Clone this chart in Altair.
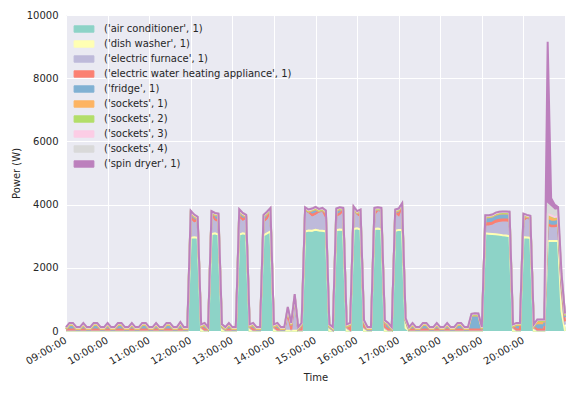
import altair as alt
import pandas as pd

# ---------------- data (5-minute samples, 09:00 .. 21:00) ----------------
names = [
    "('air conditioner', 1)", "('dish washer', 1)", "('electric furnace', 1)",
    "('electric water heating appliance', 1)", "('fridge', 1)", "('sockets', 1)",
    "('sockets', 2)", "('sockets', 3)", "('sockets', 4)", "('spin dryer', 1)",
]
colors = ["#8dd3c7", "#ffffb3", "#bebada", "#fb8072", "#80b1d3",
          "#fdb462", "#b3de69", "#fccde5", "#d9d9d9", "#bc80bd"]

hour_ticks = [9, 10, 11, 12, 13, 14, 15, 16, 17, 18, 19, 20]
y_ticks = [0, 2000, 4000, 6000, 8000, 10000]

air_conditioner = [
    0, 0, 0, 0, 0, 0, 0, 0, 0, 0, 0, 0,
    0, 0, 0, 0, 0, 0, 0, 0, 0, 0, 0, 0,
    0, 0, 0, 0, 0, 0, 0, 0, 0, 0, 0, 0,
    2900, 2920, 2900, 0, 0, 0, 3020, 3040, 3000, 0, 0, 0,
    0, 0, 3000, 3040, 3020, 0, 0, 0, 0, 2980, 3040, 3100,
    0, 0, 0, 0, 0, 0, 0, 0, 0, 3100, 3130, 3120,
    3150, 3130, 3120, 3100, 0, 0, 3140, 3160, 3150, 0, 0, 3180,
    3200, 3160, 0, 0, 0, 3180, 3190, 3170, 0, 0, 0, 3120,
    3150, 3150, 100, 0, 0, 0, 0, 0, 0, 0, 0, 0,
    0, 0, 0, 0, 0, 0, 0, 0, 0, 0, 0, 0,
    0, 3040, 3030, 3020, 3010, 3000, 2980, 2970, 2950, 0, 0, 0,
    2920, 2910, 2900, 0, 0, 0, 0, 2800, 2800, 2800, 2800, 600,
    0,
]
dish_washer = [
    5, 5, 5, 5, 5, 5, 5, 5, 5, 5, 5, 5,
    5, 5, 5, 5, 5, 5, 5, 5, 5, 5, 5, 5,
    5, 5, 5, 5, 5, 5, 5, 5, 5, 5, 5, 5,
    50, 50, 50, 5, 5, 5, 50, 50, 50, 5, 5, 5,
    5, 5, 50, 50, 50, 5, 5, 5, 5, 50, 50, 50,
    5, 5, 5, 5, 5, 5, 5, 5, 5, 50, 50, 50,
    50, 50, 50, 50, 5, 5, 50, 50, 50, 5, 5, 50,
    50, 50, 5, 5, 5, 50, 50, 50, 5, 5, 5, 50,
    50, 50, 5, 5, 5, 5, 5, 5, 5, 5, 5, 5,
    5, 5, 5, 5, 5, 5, 5, 5, 5, 5, 5, 5,
    5, 50, 50, 50, 50, 50, 50, 50, 50, 5, 5, 5,
    50, 50, 50, 5, 5, 5, 5, 50, 50, 50, 50, 30,
    5,
]
electric_furnace = [
    15, 15, 15, 15, 15, 15, 15, 15, 15, 15, 15, 15,
    15, 15, 15, 15, 15, 15, 15, 15, 15, 15, 15, 15,
    15, 15, 15, 15, 15, 15, 15, 15, 15, 15, 15, 15,
    570, 430, 510, 100, 15, 15, 570, 360, 380, 100, 15, 15,
    15, 15, 520, 360, 450, 100, 15, 15, 15, 360, 400, 590,
    100, 15, 15, 15, 520, 15, 1060, 15, 15, 610, 510, 420,
    440, 530, 570, 380, 100, 15, 400, 420, 540, 100, 15, 560,
    390, 350, 100, 15, 15, 380, 520, 520, 100, 15, 15, 520,
    390, 690, 200, 15, 15, 15, 15, 15, 15, 15, 15, 15,
    15, 15, 15, 15, 15, 15, 15, 15, 15, 15, 15, 15,
    15, 220, 230, 260, 330, 370, 400, 410, 420, 100, 15, 15,
    460, 560, 540, 100, 15, 15, 15, 450, 400, 400, 420, 600,
    200,
]
water_heating = [
    30, 30, 30, 30, 30, 30, 30, 30, 30, 30, 30, 30,
    30, 30, 30, 30, 30, 30, 30, 30, 30, 30, 30, 30,
    30, 30, 30, 30, 30, 30, 30, 30, 30, 30, 30, 30,
    80, 80, 80, 30, 30, 30, 80, 80, 80, 30, 30, 30,
    30, 30, 80, 80, 80, 30, 30, 30, 30, 80, 80, 80,
    30, 30, 30, 30, 30, 30, 30, 30, 30, 80, 80, 80,
    80, 80, 80, 80, 30, 30, 80, 80, 80, 30, 30, 80,
    80, 80, 30, 30, 30, 80, 80, 80, 30, 30, 30, 80,
    80, 80, 30, 30, 30, 30, 30, 30, 30, 30, 30, 30,
    30, 30, 30, 30, 30, 30, 30, 30, 30, 30, 30, 30,
    30, 100, 100, 100, 100, 100, 100, 100, 100, 30, 30, 30,
    80, 80, 80, 30, 30, 30, 30, 80, 80, 80, 80, 200,
    100,
]
fridge = [
    0, 130, 130, 0, 0, 130, 0, 0, 130, 130, 0, 0,
    130, 0, 0, 130, 130, 0, 0, 130, 0, 0, 130, 130,
    0, 0, 130, 0, 0, 130, 130, 0, 0, 160, 0, 0,
    130, 130, 0, 0, 130, 0, 0, 130, 130, 0, 0, 130,
    0, 0, 130, 130, 0, 0, 130, 0, 0, 130, 130, 0,
    0, 130, 0, 0, 130, 130, 0, 0, 130, 0, 0, 130,
    130, 0, 0, 130, 0, 0, 130, 130, 0, 0, 130, 0,
    0, 130, 130, 0, 0, 130, 0, 0, 130, 130, 0, 0,
    130, 0, 0, 0, 130, 0, 0, 130, 130, 0, 0, 130,
    0, 0, 130, 0, 0, 130, 130, 0, 0, 420, 440, 430,
    0, 180, 180, 180, 180, 180, 180, 180, 180, 0, 130, 130,
    130, 0, 0, 0, 130, 130, 130, 130, 130, 130, 130, 130,
    130,
]
sockets_1 = [
    10, 10, 10, 10, 10, 10, 10, 10, 10, 10, 10, 10,
    10, 10, 10, 10, 10, 10, 10, 10, 10, 10, 10, 10,
    10, 10, 10, 10, 10, 10, 10, 10, 10, 10, 10, 10,
    10, 10, 10, 10, 10, 10, 10, 10, 10, 10, 10, 10,
    10, 10, 10, 10, 10, 10, 10, 10, 10, 10, 10, 10,
    10, 10, 10, 10, 10, 10, 10, 10, 10, 10, 10, 10,
    10, 10, 10, 10, 10, 10, 10, 10, 10, 10, 10, 10,
    10, 10, 10, 10, 10, 10, 10, 10, 10, 10, 10, 10,
    10, 10, 10, 10, 10, 10, 10, 10, 10, 10, 10, 10,
    10, 10, 10, 10, 10, 10, 10, 10, 10, 10, 10, 10,
    10, 10, 10, 10, 10, 10, 10, 10, 10, 10, 10, 10,
    10, 10, 10, 10, 120, 120, 120, 150, 150, 100, 100, 100,
    50,
]
sockets_2 = [
    25, 25, 25, 25, 25, 25, 25, 25, 25, 25, 25, 25,
    25, 25, 25, 25, 25, 25, 25, 25, 25, 25, 25, 25,
    25, 25, 25, 25, 25, 25, 25, 25, 25, 25, 25, 25,
    25, 25, 25, 25, 25, 25, 25, 25, 25, 25, 25, 25,
    25, 25, 25, 25, 25, 25, 25, 25, 25, 25, 25, 25,
    25, 25, 25, 25, 25, 25, 25, 25, 25, 25, 25, 25,
    25, 25, 25, 25, 25, 25, 25, 25, 25, 25, 25, 25,
    25, 25, 25, 25, 25, 25, 25, 25, 25, 25, 25, 25,
    25, 25, 25, 25, 25, 25, 25, 25, 25, 25, 25, 25,
    25, 25, 25, 25, 25, 25, 25, 25, 25, 25, 25, 25,
    25, 25, 25, 25, 25, 25, 25, 25, 25, 25, 25, 25,
    25, 25, 25, 25, 25, 25, 25, 25, 25, 25, 25, 25,
    25,
]
sockets_3 = [
    20, 20, 20, 20, 20, 20, 20, 20, 20, 20, 20, 20,
    20, 20, 20, 20, 20, 20, 20, 20, 20, 20, 20, 20,
    20, 20, 20, 20, 20, 20, 20, 20, 20, 20, 20, 20,
    20, 20, 20, 20, 20, 20, 20, 20, 20, 20, 20, 20,
    20, 20, 20, 20, 20, 20, 20, 20, 20, 20, 20, 20,
    20, 20, 20, 20, 20, 20, 20, 20, 20, 20, 20, 20,
    20, 20, 20, 20, 20, 20, 20, 20, 20, 20, 20, 20,
    20, 20, 20, 20, 20, 20, 20, 20, 20, 20, 20, 20,
    20, 20, 20, 20, 20, 20, 20, 20, 20, 20, 20, 20,
    20, 20, 20, 20, 20, 20, 20, 20, 20, 20, 20, 20,
    20, 20, 20, 20, 20, 20, 20, 20, 20, 20, 20, 20,
    20, 20, 20, 20, 20, 20, 20, 20, 20, 20, 20, 20,
    20,
]
sockets_4 = [
    20, 20, 20, 20, 20, 20, 20, 20, 20, 20, 20, 20,
    20, 20, 20, 20, 20, 20, 20, 20, 20, 20, 20, 20,
    20, 20, 20, 20, 20, 20, 20, 20, 20, 20, 20, 20,
    20, 20, 20, 20, 20, 20, 20, 20, 20, 20, 20, 20,
    20, 20, 20, 20, 20, 20, 20, 20, 20, 20, 20, 20,
    20, 20, 20, 20, 20, 20, 20, 20, 20, 20, 20, 20,
    20, 20, 20, 20, 20, 20, 20, 20, 20, 20, 20, 20,
    20, 20, 20, 20, 20, 20, 20, 20, 20, 20, 20, 20,
    20, 20, 20, 20, 20, 20, 20, 20, 20, 20, 20, 20,
    20, 20, 20, 20, 20, 20, 20, 20, 20, 20, 20, 20,
    20, 20, 20, 20, 20, 20, 20, 20, 20, 20, 20, 20,
    20, 20, 20, 20, 20, 20, 20, 300, 250, 200, 200, 100,
    20,
]
spin_dryer = [
    0, 0, 0, 0, 0, 0, 0, 0, 0, 0, 0, 0,
    0, 0, 0, 0, 0, 0, 0, 0, 0, 0, 0, 0,
    0, 0, 0, 0, 0, 0, 0, 0, 0, 0, 0, 0,
    0, 0, 0, 0, 0, 0, 0, 0, 0, 0, 0, 0,
    0, 0, 0, 0, 0, 0, 0, 0, 0, 0, 0, 0,
    0, 0, 0, 0, 0, 0, 0, 0, 0, 0, 0, 0,
    0, 0, 0, 0, 0, 0, 0, 0, 0, 0, 0, 0,
    0, 0, 0, 0, 0, 0, 0, 0, 0, 0, 0, 0,
    0, 0, 0, 0, 0, 0, 0, 0, 0, 0, 0, 0,
    0, 0, 0, 0, 0, 0, 0, 0, 0, 0, 0, 0,
    0, 0, 0, 0, 0, 0, 0, 0, 0, 0, 0, 0,
    0, 0, 0, 0, 0, 0, 0, 5145, 300, 200, 100, 0,
    0,
]

series = [air_conditioner, dish_washer, electric_furnace, water_heating, fridge,
          sockets_1, sockets_2, sockets_3, sockets_4, spin_dryer]

# sample timestamps, every 5 minutes from 09:00 to 21:00
times = [f"2020-01-01T{9 + (5 * i) // 60:02d}:{(5 * i) % 60:02d}:00"
         for i in range(len(air_conditioner))]

rows = []
for k, (name, vals) in enumerate(zip(names, series)):
    for t, v in zip(times, vals):
        rows.append({"time": t, "appliance": name, "idx": k, "power": v})
df = pd.DataFrame(rows)

FONT = "DejaVu Sans"
TXT = "#262626"

x_enc = alt.X(
    "time:T",
    scale=alt.Scale(
        domain=[alt.DateTime(year=2020, month=1, date=1, hours=9),
                alt.DateTime(year=2020, month=1, date=1, hours=21)],
        nice=False,
    ),
    axis=alt.Axis(
        values=[alt.DateTime(year=2020, month=1, date=1, hours=h) for h in hour_ticks],
        format="%H:%M:%S", labelAngle=-30, labelAlign="right", labelBaseline="top",
        labelFlush=False, labelOverlap=False, labelOffset=-3, labelPadding=4,
        ticks=False, domain=False, gridColor="white", gridWidth=1,
        title="Time", titlePadding=6,
    ),
)
color_scale = alt.Scale(domain=names, range=colors)

base = alt.Chart(df).transform_stack(
    stack="power", groupby=["time"], as_=["y0", "y1"],
    sort=[alt.SortField(field="idx", order="ascending")],
)

area = base.mark_area(opacity=1, interpolate="linear").encode(
    x=x_enc,
    y=alt.Y(
        "y0:Q", stack=None,
        scale=alt.Scale(domain=[0, 10000], nice=False),
        axis=alt.Axis(values=y_ticks, format="d", ticks=False, domain=False,
                      gridColor="white", gridWidth=1, labelPadding=8,
                      title="Power (W)", titlePadding=5),
    ),
    y2="y1:Q",
    color=alt.Color(
        "appliance:N", scale=color_scale,
        legend=alt.Legend(
            title=None, orient="none", legendX=10, legendY=6, padding=0,
            symbolType="M-1.4,-0.45H1.4V0.45H-1.4Z", symbolSize=200,
            symbolStrokeWidth=1, symbolStrokeColor="#9a9a9a",
            labelFont=FONT, labelFontSize=10, labelColor=TXT,
            labelOffset=12, rowPadding=1, labelLimit=400,
        ),
    ),
)

line = base.mark_line(strokeWidth=2, interpolate="linear").encode(
    x=alt.X("time:T"),
    y=alt.Y("y1:Q", stack=None),
    color=alt.Color("appliance:N", scale=color_scale, legend=None),
)

chart = (
    alt.layer(area, line)
    .properties(
        width=499, height=316,
        padding={"left": 58, "top": 7, "right": 2, "bottom": 56},
        autosize=alt.AutoSizeParams(type="none"),
    )
    .configure_view(fill="#eaeaf2", strokeWidth=0)
    .configure_axis(
        labelFont=FONT, labelFontSize=10, labelColor=TXT,
        titleFont=FONT, titleFontSize=10, titleColor=TXT, titleFontWeight="normal",
    )
)

chart.save("out.html", embed_options={"renderer": "svg", "actions": False})
